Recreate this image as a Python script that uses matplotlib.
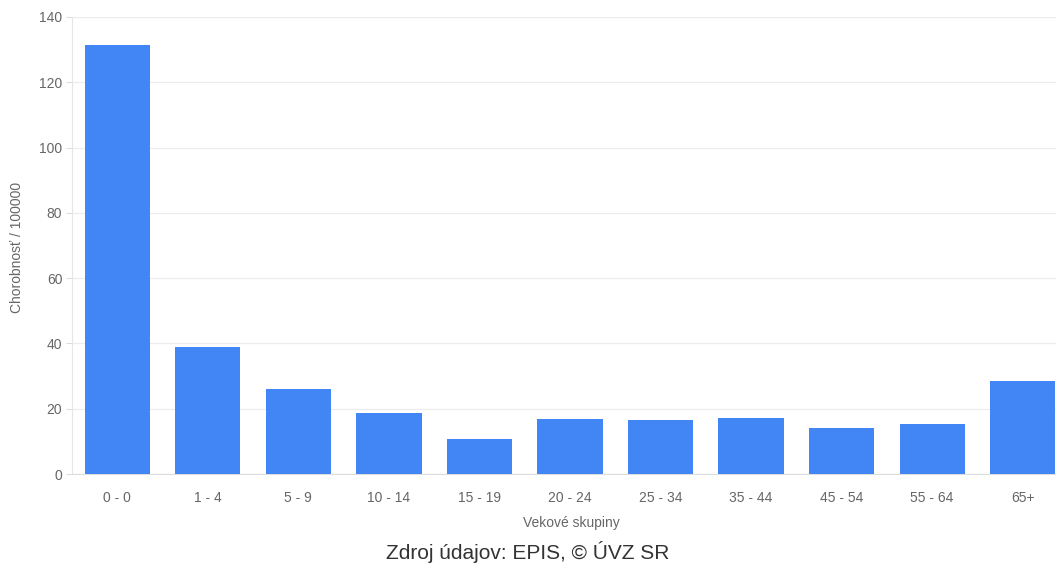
import matplotlib
matplotlib.use("Agg")
import matplotlib.pyplot as plt

categories = ["0 - 0", "1 - 4", "5 - 9", "10 - 14", "15 - 19", "20 - 24",
              "25 - 34", "35 - 44", "45 - 54", "55 - 64", "65+"]
values = [131.3, 39.0, 26.0, 18.6, 10.6, 16.8, 16.4, 17.1, 14.0, 15.3, 28.6]
yticks = [0, 20, 40, 60, 80, 100, 120, 140]

plt.rcParams['font.family'] = ['Liberation Sans', 'DejaVu Sans']

W, H = 1056, 566
fig = plt.figure(figsize=(W / 100, H / 100), dpi=100)
ax = fig.add_axes([72 / W, 92 / H, 996 / W, 457 / H])

x = list(range(len(categories)))
ax.bar(x, values, width=0.72, color='#4285f4', zorder=3)

ax.set_xlim(-0.5, len(categories) - 0.5)
ax.set_ylim(0, 140)
ax.set_yticks(yticks)
ax.set_yticklabels([str(t) for t in yticks])
ax.set_xticks(x)
ax.set_xticklabels(categories)

ax.grid(axis='y', color='#ececec', linewidth=0.9, zorder=0)
ax.grid(axis='x', visible=False)
for s in ['top', 'right']:
    ax.spines[s].set_visible(False)
ax.spines['left'].set_color('#e6e6e6')
ax.spines['bottom'].set_color('#dddddd')
ax.tick_params(axis='y', length=4, color='#dddddd', labelcolor='#666666',
               labelsize=10, pad=3)
ax.tick_params(axis='x', length=0, labelcolor='#666666', labelsize=10, pad=12)

ax.set_ylabel("Chorobnosť / 100000", fontsize=10, color='#666666')
ax.yaxis.set_label_coords((17 - 72) / 996, (474 - 247) / 457)
ax.yaxis.label.set_va('center')
ax.set_xlabel("Vekové skupiny", fontsize=10, color='#666666')
ax.xaxis.set_label_coords((571 - 72) / 996, (474 - 523) / 457)
ax.xaxis.label.set_va('center')

fig.text(528 / W, 1 - 552 / H, "Zdroj údajov: EPIS, © ÚVZ SR",
         ha='center', va='center', fontsize=15, color='#333333')

fig.savefig("out.png", dpi=100)
